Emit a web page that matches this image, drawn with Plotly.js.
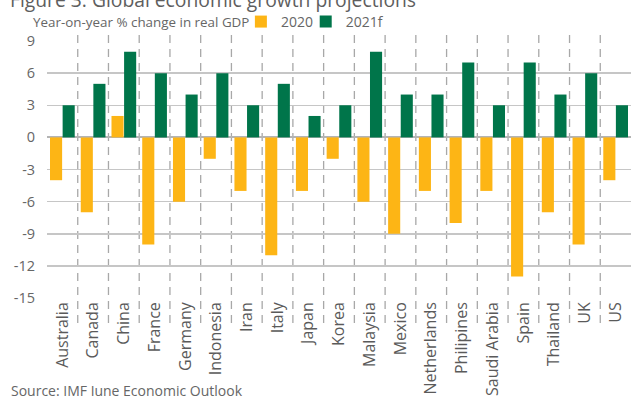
<!DOCTYPE html>
<html>
<head>
<meta charset="utf-8">
<script src="https://cdn.plot.ly/plotly-3.0.1.min.js"></script>
<style>html,body{margin:0;padding:0;background:#fff;}#chart{width:635px;height:396px;}</style>
</head>
<body>
<div id="chart"></div>
<script>
const countries = ["Australia","Canada","China","France","Germany","Indonesia","Iran","Italy","Japan","Korea","Malaysia","Mexico","Netherlands","Philipines","Saudi Arabia","Spain","Thailand","UK","US"];
const growth2020 = [-4,-7,2,-10,-6,-2,-5,-11,-5,-2,-6,-9,-5,-8,-5,-13,-7,-10,-4];
const growth2021f = [3,5,8,6,4,6,3,5,2,3,8,4,4,7,3,7,4,6,3];
const yTicks = [9,6,3,0,-3,-6,-9,-12,-15];

const FONT = "'Open Sans', 'Noto Sans', sans-serif";
const GRAY = "#666666";

const traces = [
  {type:"bar", name:"2020", x:countries, y:growth2020, marker:{color:"#FDB515"}, legend:"legend"},
  {type:"bar", name:"2021f", x:countries, y:growth2021f, marker:{color:"#00754A"}, legend:"legend2"}
];

const shapes = [];
for (let i = 0; i < countries.length - 1; i++) {
  shapes.push({type:"line", xref:"x", yref:"paper", x0:i+0.5, x1:i+0.5, y0:-0.097, y1:1.03,
    line:{color:"#a8a8a8", width:1.3, dash:"8px,6px"}, layer:"below"});
}

const legendCommon = {orientation:"h", xanchor:"left", y:1.074, yanchor:"middle",
  font:{family:FONT, size:14, color:GRAY}, bgcolor:"rgba(0,0,0,0)", itemwidth:30};

const layout = {
  width:635, height:396,
  margin:{l:47, r:4, t:41, b:98, autoexpand:false},
  paper_bgcolor:"#fff", plot_bgcolor:"#fff",
  font:{family:FONT, color:GRAY, size:13},
  barmode:"group", bargap:0.18, bargroupgap:0.04,
  showlegend:true,
  legend:Object.assign({x:0.332}, legendCommon),
  legend2:Object.assign({x:0.443}, legendCommon),
  xaxis:{type:"category", tickangle:-90, showgrid:false, zeroline:false, showline:false,
    ticks:"", tickfont:{family:FONT, size:16, color:"#5a5a5a"}, range:[-0.5, countries.length-0.5], fixedrange:true},
  yaxis:{range:[-15,9], tickvals:yTicks, ticktext:yTicks.map(String), showgrid:true, gridcolor:"#c6c6c6", gridwidth:1.5,
    zeroline:true, zerolinecolor:"#b4b4b4", zerolinewidth:1.8, showline:false,
    ticks:"outside", ticklen:8, tickcolor:"rgba(0,0,0,0)", tickfont:{family:FONT, size:14.5, color:GRAY}, fixedrange:true},
  shapes:shapes,
  annotations:[
    {text:"Figure 3: Global economic growth projections", xref:"paper", yref:"paper", x:-0.066, y:1.101,
      xanchor:"left", yanchor:"bottom", showarrow:false, font:{family:FONT, size:19.3, color:"#5e5e5e"}},
    {text:"Year-on-year % change in real GDP", xref:"paper", yref:"paper", x:-0.028, y:1.074,
      xanchor:"left", yanchor:"middle", showarrow:false, font:{family:FONT, size:13.4, color:GRAY}},
    {text:"Source: IMF June Economic Outlook", xref:"paper", yref:"paper", x:-0.065, y:-0.358,
      xanchor:"left", yanchor:"middle", showarrow:false, font:{family:FONT, size:14, color:GRAY}}
  ]
};

Plotly.newPlot("chart", traces, layout, {displayModeBar:false, staticPlot:true});
</script>
</body>
</html>
